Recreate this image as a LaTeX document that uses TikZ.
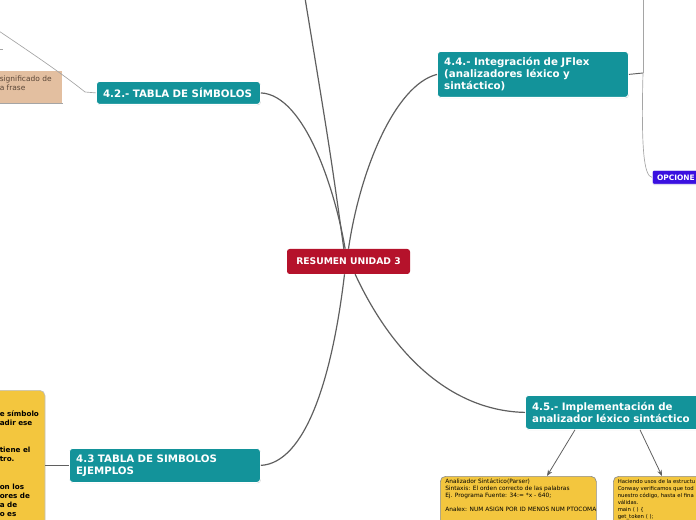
\documentclass[tikz,border=0pt]{standalone}
\usepackage{fontspec}
\setmainfont{DejaVu Sans}
\usetikzlibrary{arrows.meta,shadows}
\definecolor{tealbox}{RGB}{19,147,154}
\definecolor{redbox}{RGB}{181,18,43}
\definecolor{purplebox}{RGB}{58,16,224}
\definecolor{yellowbox}{RGB}{243,198,62}
\definecolor{tanbox}{RGB}{227,191,160}
\definecolor{conncol}{RGB}{95,95,95}
\definecolor{thincol}{RGB}{165,165,165}
\definecolor{tantext}{RGB}{90,70,55}
\tikzset{
  topic/.style={fill=tealbox, draw=white, line width=0.6pt, rounded corners=2.5pt,
    text=white, font=\bfseries\fontsize{7.7}{9}\selectfont, align=left,
    anchor=north west, inner xsep=5pt, inner ysep=0pt,
    drop shadow={shadow xshift=0.4pt, shadow yshift=-0.6pt, opacity=0.35}},
  rootbox/.style={fill=redbox, rounded corners=2pt, text=white,
    font=\bfseries\fontsize{6.9}{8}\selectfont, inner sep=0pt},
  ybox/.style={fill=yellowbox, draw=black!45, line width=0.5pt, rounded corners=4pt,
    anchor=north west, inner sep=0pt},
  smalltxt/.style={font=\fontsize{4.4}{5.25}\selectfont, align=left, anchor=north west,
    inner sep=0pt, text=black},
  conn/.style={draw=conncol, line width=0.9pt},
  thin/.style={draw=thincol, line width=0.5pt},
  arr/.style={draw=conncol, line width=0.6pt, -{Stealth[length=4.5pt,width=3.5pt]}}
}
\begin{document}
\begin{tikzpicture}[x=0.75pt,y=-0.75pt]
\useasboundingbox (0,0) rectangle (696,520);
\clip (0,0) rectangle (696,520);

% ---- nodes ----
\node[rootbox, minimum width=92.25pt, minimum height=18.75pt] (root) at (348.5,261.5) {RESUMEN UNIDAD 3};

\node[topic, minimum width=123pt, minimum height=17.25pt, text width=113pt] (n42) at (96,81) {4.2.- TABLA DE SÍMBOLOS};

\node[topic, minimum width=143.25pt, minimum height=34.5pt, text width=133pt] (n44) at (437,51)
  {4.4.- Integración de JFlex\\(analizadores léxico y\\sintáctico)};

\node[topic, minimum width=140pt, minimum height=25.5pt, text width=130pt] (n45) at (525,395)
  {4.5.- Implementación de\\analizador léxico sintáctico};

\node[topic, minimum width=143.25pt, minimum height=25.5pt, text width=133pt] (n43) at (69,448)
  {4.3 TABLA DE SIMBOLOS\\EJEMPLOS};

\node[fill=purplebox, draw=white, line width=0.5pt, rounded corners=1pt, anchor=north west,
  minimum width=45pt, minimum height=10.5pt, inner xsep=3.5pt, inner ysep=0pt,
  text width=38pt, align=left, text=white, font=\bfseries\fontsize{5.6}{6}\selectfont,
  drop shadow={shadow xshift=0.4pt, shadow yshift=-0.6pt, opacity=0.3}] (opc) at (652,170) {OPCIONE};

% tan box (top left, clipped)
\node[fill=tanbox, anchor=north west, minimum width=54pt, minimum height=24pt, inner sep=0pt] (tan) at (-10,71) {};
\node[anchor=north west, inner sep=0pt, align=left, text=tantext,
  font=\fontsize{5.6}{6.75}\selectfont] (tantxt) at (-0.5,75.5) {significado de\\a frase};

% left yellow box (clipped)
\node[ybox, minimum width=41pt, minimum height=110pt, draw=black!25] (ly) at (-10,390) {};
\node[anchor=north west, inner sep=0pt, align=left, text=black,
  font=\bfseries\fontsize{5.4}{6.75}\selectfont] (lytxt) at (-0.5,410)
  {e símbolo\\adir ese\\[14pt]tiene el\\tro.\\[14pt]on los\\ores de\\a de\\o es};

% bottom yellow boxes
\node[ybox, minimum width=117pt, minimum height=45pt] (b1) at (440,476) {};
\node[smalltxt] (b1txt) at (445,479)
  {Analizador Sintáctico(Parser)\\Sintaxis: El orden correcto de las palabras\\Ej. Programa Fuente: 34:= *x - 640;\\[5.25pt]Analex: NUM ASIGN POR ID MENOS NUM PTOCOMA};

\node[ybox, minimum width=75pt, minimum height=45pt] (b2) at (613,476) {};
\node[smalltxt, font=\fontsize{4.0}{5.25}\selectfont] (b2txt) at (617.5,479)
  {Haciendo usos de la estructu\\Conway verificamos que tod\\nuestro código, hasta el fina\\válidas.\\main ( ) \{\\get\_token ( );};

% ---- connectors ----
\coordinate (topend) at (304,-8);
\coordinate (tl) at (-10,25);
\coordinate (tlk) at (85,92);
\coordinate (rj) at (643,73);
\coordinate (rtop) at (643,-10);

\draw[conn] ([xshift=-3.5pt]root.north) .. controls (330,150) .. (topend);
\draw[conn] (n42.east) .. controls (305,95) and (335,190) .. ([xshift=-2.5pt]root.north);
\draw[conn] (n44.west) .. controls (395,85) and (360,170) .. ([xshift=0pt]root.north);
\draw[conn] ([xshift=-3pt]root.south) .. controls (332,380) and (305,463) .. (n43.east);
\draw[conn] ([xshift=5pt]root.south) .. controls (395,360) and (455,411) .. (n45.west);
\draw[conn] (ly.east |- n43.west) -- (n43.west);

\draw[thin] (tl) .. controls (30,52) and (60,72) .. (tlk) -- (n42.west);
\draw[thin] (-2,49) -- (3,49);
\draw[thin] (tan.south west) -- (tan.south east);

\draw[conn, line width=0.7pt] (n44.east) -- (rj);
\draw[thin] (rj) -- (rtop);
\draw[thin] (rj) .. controls (641,150) and (644,176) .. (opc.west);

\draw[arr] ([xshift=37.5pt]n45.south west) -- ([xshift=80.25pt]b1.north west);
\draw[arr] ([xshift=86.25pt]n45.south west) -- ([xshift=36.75pt]b2.north west);
\end{tikzpicture}
\end{document}
